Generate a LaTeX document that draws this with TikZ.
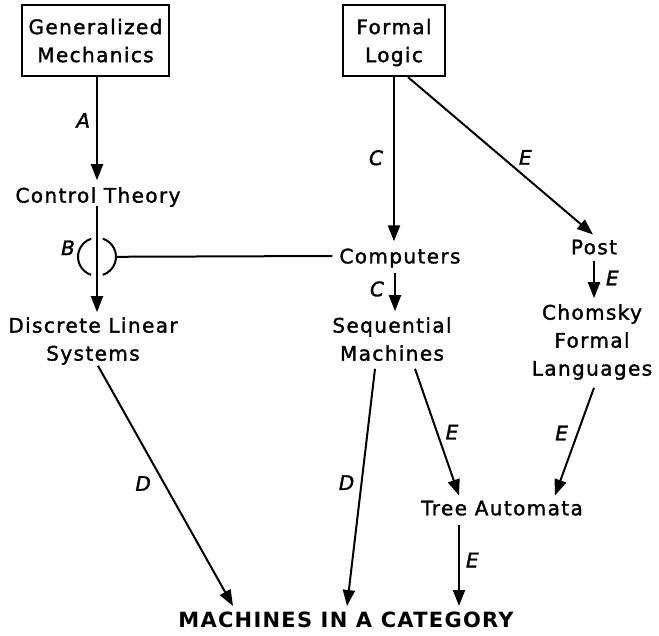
\documentclass[tikz,border=0pt]{standalone}
\usepackage{fontspec}
\setmainfont{DejaVu Sans}[LetterSpace=7, FakeBold=1.6, ItalicFont={DejaVu Sans Oblique}, BoldFont={DejaVu Sans Bold}]
\newfontfamily\headfont{DejaVu Sans Bold}[LetterSpace=6]
\usetikzlibrary{arrows.meta,calc}

\tikzset{
  txt/.style={inner sep=0pt, text depth=0pt, align=center, font=\fontsize{20}{28}\selectfont},
  boxed/.style={txt, draw, line width=2.3pt},
  head/.style={inner sep=0pt, text depth=0pt, font=\headfont\fontsize{21}{24}\selectfont},
  arr/.style={line width=2pt, -{Triangle[length=16pt,width=12pt]}},
  conn/.style={line width=2pt},
  lab/.style={inner sep=0pt, text depth=0pt, font=\fontsize{20}{20}\selectfont\itshape},
}

\begin{document}
\begin{tikzpicture}[x=1pt,y=-1pt]
\useasboundingbox (0,0) rectangle (659,636);

% subject areas
\node[boxed, minimum width=147pt, minimum height=71pt] (gm) at (95.5,40.5) {Generalized\\Mechanics};
\node[boxed, minimum width=102pt, minimum height=71pt] (fl) at (394,40.5) {Formal\\Logic};
\node[txt] (ct) at (98,195) {Control Theory};
\node[txt] (dl) at (93,339) {Discrete Linear\\Systems};
\node[txt] (co) at (400,256) {Computers};
\node[txt] (sm) at (392,339) {Sequential\\Machines};
\node[txt] (po) at (594,247) {Post};
\node[txt] (ch) at (592,340) {Chomsky\\Formal\\Languages};
\node[txt] (ta) at (502,508) {Tree Automata};
\node[head] (mc) at (346,620) {MACHINES IN A CATEGORY};

% A
\draw[arr] ($(gm.south)+(1.5,0)$) -- ($(ct.north)+(-1,-7)$)
  node[lab, pos=0.42, left=6pt] {A};

% Control Theory to Discrete Linear Systems, crossed at the B junction
\coordinate (bj) at ($(ct.south)+(-1,54)$);
\draw[arr] ($(ct.south)+(-1,3)$) -- ($(dl.north)+(4,-5)$);
\draw[conn] ([shift={(-72:19)}]bj) arc[start angle=-72, end angle=72, radius=19];
\draw[conn] ([shift={(108:19)}]bj) arc[start angle=108, end angle=252, radius=19];
\draw[conn] ($(bj)+(19,0)$) -- ($(co.west)+(-7,0)$);
\node[lab] (bl) at ($(bj)+(-29,-9)$) {B};

% C
\draw[arr] (fl.south) -- ($(co.north)+(-6,-7)$)
  node[lab, pos=0.49, left=10pt] {C};
\draw[arr] ($(co.south)+(-5,9)$) -- ($(sm.north)+(3,-6)$)
  node[lab, pos=0.42, left=10pt] {C};

% E
\draw[arr] ($(fl.south)+(14,0)$) -- ($(po.north)+(-1,-5)$)
  node[lab, pos=0.51, xshift=23pt] {E};
\draw[arr] ($(po.south)+(0,7)$) -- ($(ch.north)+(2,-6)$)
  node[lab, pos=0.45, right=11pt] {E};
\draw[arr] ($(sm.south)+(23,8)$) -- ($(ta.north)+(-43,-5)$)
  node[lab, pos=0.5, xshift=15pt] {E};
\draw[arr] ($(ch.south)+(2,12)$) -- ($(ta.north)+(53,-5)$)
  node[lab, pos=0.42, xshift=-16pt] {E};
\draw[arr] ($(ta.south)+(-43,10)$) -- ($(mc.north)+(113,-6)$)
  node[lab, pos=0.43, right=6pt] {E};

% D
\draw[arr] ($(dl.south)+(5,5)$) -- ($(mc.north)+(-113,-6)$)
  node[lab, pos=0.49, xshift=-21pt] {D};
\draw[arr] ($(sm.south)+(-17,8)$) -- ($(mc.north)+(1,-6)$)
  node[lab, pos=0.48, xshift=-15pt] {D};
\end{tikzpicture}
\end{document}
